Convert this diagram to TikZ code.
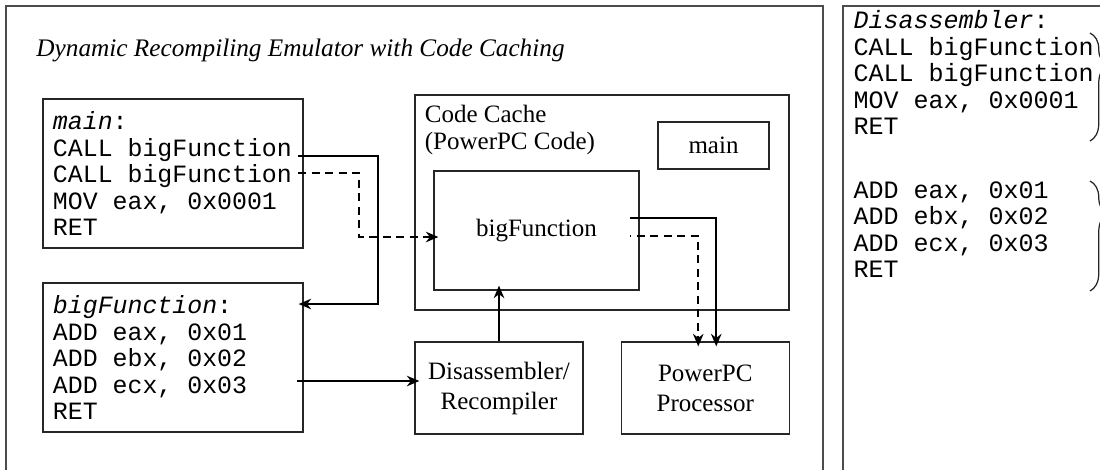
\documentclass[tikz,border=0pt]{standalone}
\usepackage{fontspec}
\setmainfont{Liberation Serif}
\setmonofont{Liberation Mono}
\usepackage{tikz}
\usetikzlibrary{positioning, arrows.meta, decorations.pathreplacing}

\begin{document}
\begin{tikzpicture}[x=0.4pt, y=-0.4pt,
  frame/.style={draw=black!70, line width=0.5pt},
  box/.style={draw=black!85, line width=0.5pt, inner sep=0pt, align=center, font=\fontsize{10}{12}\selectfont},
  codebox/.style={draw=black!85, line width=0.5pt, inner xsep=4pt, text width=96pt, minimum height=59.6pt, align=flush left, font=\ttfamily\fontsize{9.95}{10.6}\selectfont},
  listing/.style={inner sep=0pt, align=left, anchor=north west, font=\ttfamily\fontsize{10}{10.6}\selectfont},
  flow/.style={line width=0.8pt, -{Stealth[length=5pt, width=4.2pt, inset=1.6pt]}, shorten >=-2pt},
  flowdash/.style={flow, dash pattern=on 3.2pt off 2.2pt},
  curly/.style={draw=black!85, line width=0.5pt, decorate, decoration={brace, amplitude=7pt, aspect=#1}},
  curly/.default=0.3
]
\useasboundingbox (0,0) rectangle (1100,469);
% frames
\draw[frame] (6,470) -- (6,6) -- (823,6) -- (823,470);
\draw[frame] (843,470) -- (843,6) -- (1101,6);

\node[anchor=base west, inner sep=0pt, font=\itshape\fontsize{10.1}{12}\selectfont] (title) at (36,56) {Dynamic Recompiling Emulator with Code Caching};

% source code
\node[codebox] (mainsrc) at (173,173.5) {\textit{main}:\\CALL bigFunction\\CALL bigFunction\\MOV eax, 0x0001\\RET};
\node[codebox] (bigfn) at (173,357.5) {\textit{bigFunction}:\\ADD eax, 0x01\\ADD ebx, 0x02\\ADD ecx, 0x03\\RET};

% code cache
\node[box, minimum width=149.6pt, minimum height=86pt] (cache) at (602,202.5) {};
\node[inner sep=0pt, align=left, anchor=north west, font=\fontsize{10}{11}\selectfont] (cachelbl) at ([shift={(10,10)}]cache.north west) {Code Cache\\(PowerPC Code)};
\node[box, minimum width=44.4pt, minimum height=18.8pt] (mainobj) at (713.5,145.5) {main};
\node[box, minimum width=82pt, minimum height=47.6pt] (cfn) at (536.5,230.5) {bigFunction};

\node[box, minimum width=67.2pt, minimum height=36.8pt] (disasm) at (499,388) {Disassembler/\\Recompiler};
\node[box, minimum width=67.2pt, minimum height=36.8pt, right=14.8pt of disasm] (ppc) {PowerPC\\Processor};

% connectors
\coordinate (call1) at (298,156);
\coordinate (call2) at (298,173);
\coordinate (jmp1) at (378,304);
\coordinate (jmp2) at (359,237);
\draw[flow] (call1) -| (jmp1) -- (jmp1 -| bigfn.east);
\draw[flowdash] (call2) -| (jmp2) -- (jmp2 -| cfn.west);
\coordinate (out1) at (630,218);
\coordinate (out2) at (630,236);
\draw[flow] (out1) -| ([xshift=4.4pt]ppc.north);
\draw[flowdash, dash phase=2.8pt] (out2) -| ([xshift=-2.8pt]ppc.north);
\coordinate (addl) at (297,381);
\draw[flow] (addl) -- (addl -| disasm.west);
\draw[flow] (disasm.north) -- (disasm.north |- cfn.south);

% disassembler view
\node[listing] (dislist) at (853,10) {\textit{Disassembler}:\\CALL bigFunction\\CALL bigFunction\\MOV eax, 0x0001\\RET};
\node[listing] (addlist) at (853,181) {ADD eax, 0x01\\ADD ebx, 0x02\\ADD ecx, 0x03\\RET};
\draw[curly] (1090,33) -- (1090,141);
\draw[curly] (1090,181) -- (1090,291);
\end{tikzpicture}
\end{document}
